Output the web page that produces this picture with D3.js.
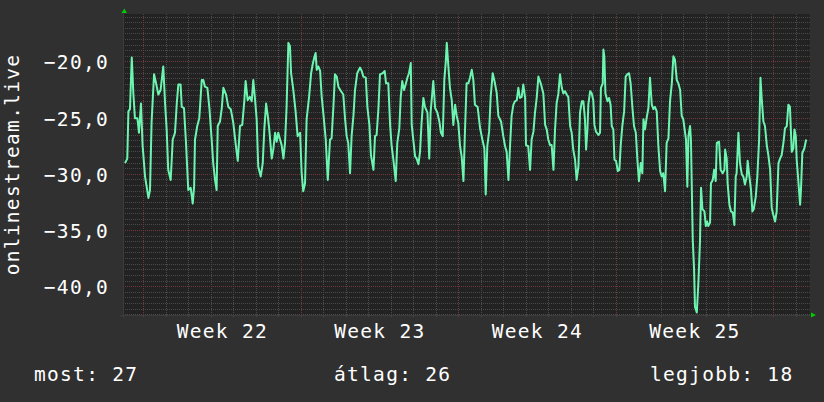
<!DOCTYPE html>
<html lang="hu">
<head>
<meta charset="utf-8"/>
<script src="https://cdn.jsdelivr.net/npm/d3@7"></script>
<style>
  body { margin: 0; background: #303030; }
  text { font-family: "DejaVu Sans Mono", monospace; fill: #ffffff; font-size: 19.5px; letter-spacing: 1.3px; }
</style>
</head>
<body>
<div id="chart"></div>
<script>
// time span of the graph (UTC)
var startTime = Date.UTC(2021, 4, 30, 2, 0);
var endTime = Date.UTC(2021, 5, 29, 14, 45);

// sample offsets in days from startTime
var days = [0.09,0.19,0.24,0.31,0.39,0.46,0.53,0.64,0.71,0.80,0.87,0.98,1.13,1.20,1.27,1.38,1.47,1.57,1.67,1.79,
  1.87,1.94,2.01,2.12,2.21,2.31,2.39,2.46,2.56,2.61,2.71,2.80,2.90,3.01,3.10,3.16,3.20,3.30,3.39,3.50,
  3.57,3.64,3.75,3.84,3.94,4.01,4.09,4.16,4.21,4.31,4.39,4.46,4.58,4.68,4.79,4.90,5.02,5.10,
  5.20,5.30,5.39,5.45,5.54,5.64,5.72,5.79,5.87,5.94,6.01,6.12,6.21,6.28,6.36,6.43,6.50,6.61,6.68,6.76,
  6.83,6.90,6.98,7.05,7.13,7.20,7.27,7.35,7.42,7.47,7.57,7.67,7.76,7.87,7.94,8.01,8.09,8.16,8.27,8.36,
  8.43,8.50,8.56,8.61,8.68,8.76,8.83,8.90,9.01,9.10,9.20,9.27,9.35,9.42,9.50,9.57,9.69,9.79,9.87,9.94,
  10.01,10.09,10.16,
  10.24,10.31,10.41,10.53,10.61,10.68,10.79,10.86,10.95,11.02,11.13,11.20,11.27,11.35,11.42,11.54,11.63,11.69,11.79,11.87,
  11.94,12.01,12.12,12.19,12.28,12.34,12.41,12.49,12.56,12.64,12.71,12.79,12.83,12.90,12.98,13.05,13.13,13.20,13.27,13.35,
  13.42,13.53,13.61,13.67,13.79,13.87,13.97,14.06,14.13,14.21,14.28,14.34,14.39,14.46,14.53,14.61,14.68,14.76,14.83,14.90,
  14.98,15.05,15.13,15.20,15.27,
  15.35,15.42,15.50,15.57,15.64,15.76,15.87,15.97,16.06,16.12,16.19,16.27,16.34,16.43,16.53,16.61,16.68,16.80,16.90,16.98,
  17.05,17.13,17.20,17.27,17.35,17.42,17.50,17.57,17.64,17.72,17.79,17.87,17.91,18.01,18.09,18.16,18.24,18.31,18.39,18.46,
  18.58,18.68,18.76,18.83,18.90,18.98,19.05,19.13,19.20,19.27,19.35,19.42,19.50,19.57,19.64,19.72,19.79,19.87,19.94,20.01,
  20.09,20.16,20.24,20.31,20.39,
  20.46,20.53,20.58,20.64,20.68,20.76,20.83,20.90,20.95,21.02,21.13,21.20,21.24,21.32,21.35,21.39,21.44,21.53,21.60,21.67,
  21.72,21.79,21.84,21.91,21.99,22.06,22.12,22.19,22.27,22.34,22.41,22.49,22.56,22.64,22.71,22.79,22.86,22.93,23.01,23.08,
  23.13,23.20,23.27,23.35,23.42,23.50,23.57,23.64,23.72,23.79,23.87,23.94,24.01,24.09,24.16,24.24,24.31,24.39,24.46,24.53,
  24.61,24.68,24.76,24.83,24.90,25.02,25.08,25.13,25.20,25.24,25.32,25.38,25.42,25.50,
  25.57,25.64,25.69,25.75,25.84,25.90,25.96,26.01,26.09,26.13,26.21,26.27,26.34,26.39,26.49,26.56,26.65,26.73,26.76,26.83,
  26.87,26.95,27.02,27.10,27.17,27.23,27.27,27.35,27.42,27.50,27.57,27.64,27.72,27.76,27.82,27.91,27.97,28.03,28.12,28.19,
  28.27,28.33,28.39,28.46,28.53,28.61,28.68,28.76,28.83,28.90,28.98,29.05,29.13,29.20,29.27,29.35,29.42,29.50,29.57,29.64,
  29.72,29.79,29.84,29.90,29.94,30.01,30.09,30.13,30.19,30.28,30.36];

var values = [-29.0,-28.6,-24.4,-24.2,-19.6,-22.8,-25.0,-25.0,-26.3,-23.7,-27.4,-30.2,-32.1,-31.4,-25.4,-21.1,-21.9,-22.9,-22.5,-20.4,
  -23.7,-26.0,-29.6,-30.5,-26.9,-26.3,-23.7,-22.0,-22.0,-24.0,-24.1,-27.2,-31.4,-31.2,-32.6,-31.1,-26.9,-25.7,-25.0,-21.6,
  -21.6,-22.2,-22.3,-24.1,-26.9,-29.0,-30.5,-31.4,-25.7,-25.3,-24.1,-22.3,-22.9,-24.0,-24.2,-25.4,-27.5,-28.8,
  -25.7,-25.6,-23.5,-21.7,-23.4,-23.1,-23.5,-21.6,-23.4,-25.1,-29.3,-30.2,-29.0,-26.0,-23.7,-24.7,-26.0,-28.6,-27.8,-26.3,
  -27.1,-26.3,-26.9,-27.4,-28.6,-27.2,-24.0,-18.3,-18.6,-21.0,-22.5,-24.4,-26.6,-26.3,-29.9,-31.5,-30.8,-25.1,-23.1,-21.0,
  -20.2,-19.6,-19.2,-20.7,-20.4,-20.8,-23.1,-24.5,-26.9,-30.5,-26.9,-26.8,-24.0,-21.1,-21.3,-22.2,-22.6,-22.9,-25.1,-26.6,
  -27.2,-29.9,-26.6,
  -24.8,-22.5,-21.0,-20.5,-20.8,-21.3,-21.4,-24.0,-25.6,-28.3,-29.6,-26.6,-26.5,-24.2,-21.1,-21.0,-20.8,-21.9,-21.9,-25.6,
  -27.5,-28.6,-30.6,-27.2,-25.9,-23.2,-21.7,-22.5,-22.0,-21.4,-21.0,-20.1,-25.6,-26.9,-28.4,-28.6,-29.1,-28.0,-25.4,-23.2,
  -24.0,-24.5,-28.6,-24.5,-21.7,-24.1,-24.5,-25.3,-26.3,-26.6,-21.6,-20.1,-18.3,-20.4,-22.3,-23.4,-25.6,-23.8,-24.8,-25.4,
  -27.5,-28.4,-30.6,-26.0,-21.9,
  -21.9,-21.4,-20.7,-21.6,-23.8,-24.0,-25.9,-26.9,-27.7,-31.8,-27.5,-26.2,-23.1,-21.0,-21.9,-22.8,-24.8,-25.3,-26.6,-27.5,
  -28.0,-30.5,-27.5,-24.8,-23.8,-23.5,-23.4,-22.3,-23.2,-23.1,-22.0,-23.2,-27.4,-27.5,-29.6,-26.9,-26.2,-24.5,-23.1,-21.3,
  -22.0,-22.8,-25.6,-26.0,-26.9,-27.4,-27.4,-29.6,-26.0,-23.7,-22.8,-21.1,-22.3,-22.8,-22.6,-22.9,-23.1,-25.7,-26.3,-27.8,
  -28.7,-30.5,-29.3,-24.5,-23.5,
  -23.5,-25.1,-27.8,-26.0,-23.8,-22.6,-22.8,-23.4,-25.6,-26.2,-26.5,-26.3,-22.3,-21.9,-18.9,-19.5,-22.8,-23.5,-23.2,-23.8,
  -25.7,-26.0,-28.7,-28.8,-29.7,-29.6,-27.4,-25.7,-24.4,-21.3,-21.1,-21.0,-21.9,-24.1,-25.7,-26.3,-28.7,-30.6,-29.0,-29.9,
  -25.1,-26.0,-25.0,-24.1,-21.4,-23.8,-24.2,-24.0,-24.4,-27.4,-29.7,-30.2,-29.9,-31.5,-27.2,-26.8,-23.5,-21.9,-19.5,-19.8,
  -21.6,-21.9,-22.5,-24.8,-25.1,-26.9,-31.1,-26.6,-25.7,-26.9,-35.8,-38.5,-41.8,-42.3,
  -39.7,-36.1,-31.2,-33.1,-33.3,-34.6,-34.2,-34.6,-34.3,-30.8,-30.5,-29.6,-30.6,-27.2,-27.1,-29.6,-29.9,-29.6,-27.8,-28.6,
  -30.8,-32.7,-33.3,-33.4,-34.5,-30.2,-29.9,-26.3,-29.0,-30.0,-30.2,-30.9,-30.2,-28.8,-29.9,-31.4,-33.3,-33.1,-32.0,-30.2,
  -26.9,-21.4,-23.4,-25.3,-25.7,-27.4,-28.3,-29.6,-33.0,-33.6,-34.2,-33.3,-29.0,-28.6,-28.3,-27.2,-25.9,-25.7,-23.8,-24.0,
  -28.0,-27.7,-26.0,-26.6,-28.7,-30.5,-32.7,-31.4,-28.1,-27.7,-26.9];

var yTicks = [-40, -35, -30, -25, -20];
var weekStarts = ["2021-05-31", "2021-06-07", "2021-06-14", "2021-06-21"];
var weekLabels = ["Week 22", "Week 23", "Week 24", "Week 25"];
var legendLabels = ["most", "átlag", "legjobb"];
var legendValues = [27, 26, 18];
var yTitle = "onlinestream.live";

var width = 824, height = 402;
var plot = {left: 123, right: 810, top: 14, bottom: 315};

var svg = d3.select("#chart")
  .append("svg")
    .attr("width", width)
    .attr("height", height)

svg.append("rect")
  .attr("width", width).attr("height", height)
  .attr("fill", "#303030")

svg.append("rect")
  .attr("x", plot.left).attr("y", plot.top)
  .attr("width", plot.right - plot.left).attr("height", plot.bottom - plot.top)
  .attr("fill", "#222222")

var x = d3.scaleUtc()
  .domain([new Date(startTime), new Date(endTime)])
  .range([plot.left, plot.right])

var y = d3.scaleLinear()
  .domain([-42.52, -15.73])
  .range([plot.bottom, plot.top])

var hu = d3.formatLocale({decimal: ",", thousands: " ", grouping: [3], currency: ["", " Ft"]});
var fmt = hu.format(".1f");

var grid = svg.append("g")
var px = function (v) { return Math.floor(v) + 0.5; };

// minor horizontal grid every 0.5
var minorY = d3.range(-42.5, -15.5, 0.5).filter(function (v) { return v % 5 !== 0; });
grid.selectAll(".minor-y")
  .data(minorY)
  .enter()
  .append("line")
    .attr("x1", plot.left).attr("x2", plot.right)
    .attr("y1", function (d) { return px(y(d)); })
    .attr("y2", function (d) { return px(y(d)); })
    .attr("stroke", "#4a4a4a")
    .attr("stroke-dasharray", "1,1")

var mondays = d3.utcMonday.range(new Date(startTime), new Date(endTime));
var isMonday = function (d) { return d.getUTCDay() === 1; };

// minor vertical grid every day (not on mondays)
var dayLines = d3.utcDay.range(new Date(startTime), new Date(endTime)).filter(function (d) { return !isMonday(d); });
grid.selectAll(".minor-x")
  .data(dayLines)
  .enter()
  .append("line")
    .attr("x1", function (d) { return px(x(d)); })
    .attr("x2", function (d) { return px(x(d)); })
    .attr("y1", plot.top).attr("y2", plot.bottom + 2)
    .attr("stroke", "#4a4a4a")
    .attr("stroke-dasharray", "1,1")

// major grid
grid.selectAll(".major-y")
  .data(yTicks)
  .enter()
  .append("line")
    .attr("x1", plot.left).attr("x2", plot.right)
    .attr("y1", function (d) { return px(y(d)); })
    .attr("y2", function (d) { return px(y(d)); })
    .attr("stroke", "#703838")
    .attr("stroke-dasharray", "1,1")

grid.selectAll(".major-x")
  .data(mondays)
  .enter()
  .append("line")
    .attr("x1", function (d) { return px(x(d)); })
    .attr("x2", function (d) { return px(x(d)); })
    .attr("y1", plot.top).attr("y2", plot.bottom + 3)
    .attr("stroke", "#703838")
    .attr("stroke-dasharray", "1,1")

// axis lines
grid.append("line")
  .attr("x1", plot.left - 3).attr("x2", plot.right + 2)
  .attr("y1", plot.bottom + 0.5).attr("y2", plot.bottom + 0.5)
  .attr("stroke", "#3c3c3c")
grid.append("line")
  .attr("x1", plot.left + 0.5).attr("x2", plot.left + 0.5)
  .attr("y1", plot.top - 2).attr("y2", plot.bottom + 3)
  .attr("stroke", "#3c3c3c")

// arrows
svg.append("path")
  .attr("d", "M121.5,13L127,13L124.3,8.5Z")
  .attr("fill", "#00cc00")
svg.append("path")
  .attr("d", "M811,312.5L811,317.5L816,315Z")
  .attr("fill", "#00cc00")

// data line
var line = d3.line()
  .x(function (d, i) { return x(new Date(startTime + days[i] * 86400000)); })
  .y(function (d) { return y(d); })

svg.append("path")
  .datum(values)
  .attr("fill", "none")
  .attr("stroke", "#6cf5b0")
  .attr("stroke-width", 2)
  .attr("stroke-linejoin", "round")
  .attr("d", line)

// y labels
svg.selectAll(".ylab")
  .data(yTicks)
  .enter()
  .append("text")
    .attr("x", 109)
    .attr("y", function (d) { return y(d) + 7.5; })
    .attr("text-anchor", "end")
    .text(function (d) { return fmt(d); })

// week labels, centred in each week
svg.selectAll(".wlab")
  .data(weekStarts)
  .enter()
  .append("text")
    .attr("x", function (d) { return x(new Date(Date.parse(d + "T00:00:00Z") + 3.5 * 86400000)); })
    .attr("y", 338)
    .attr("text-anchor", "middle")
    .text(function (d, i) { return weekLabels[i]; })

svg.append("text")
  .attr("transform", "translate(19," + ((plot.top + plot.bottom) / 2) + ") rotate(-90)")
  .attr("text-anchor", "middle")
  .text(yTitle)

var legendX = [34, 334, 650];
svg.selectAll(".leg")
  .data(legendLabels)
  .enter()
  .append("text")
    .attr("x", function (d, i) { return legendX[i]; })
    .attr("y", 381)
    .text(function (d, i) { return d + ": " + legendValues[i]; })
</script>
</body>
</html>
